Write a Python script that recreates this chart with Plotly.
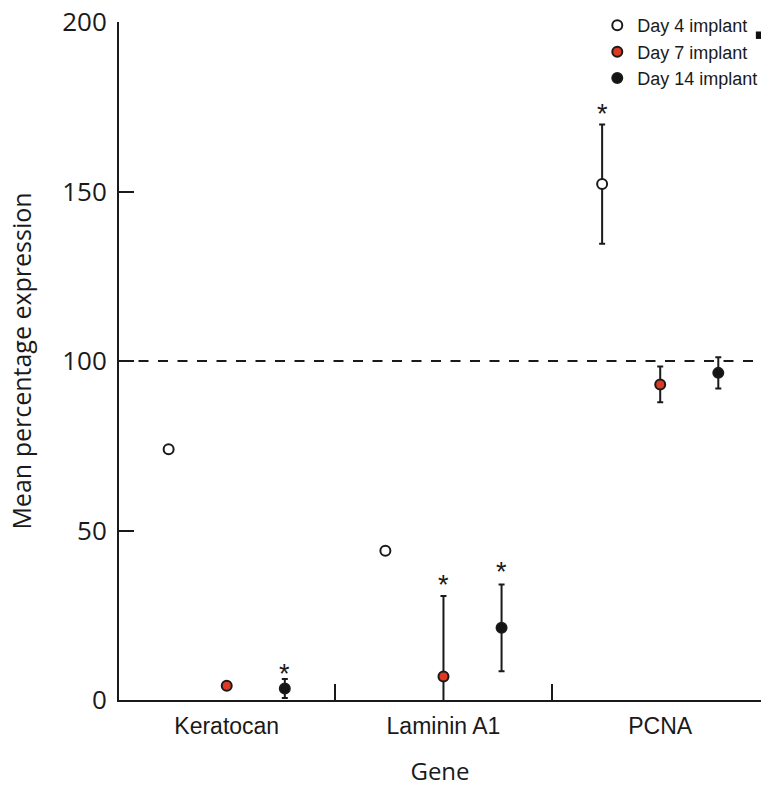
import plotly.graph_objects as go

# ---- data ----
genes = ["Keratocan", "Laminin A1", "PCNA"]
series_names = ["Day 4 implant", "Day 7 implant", "Day 14 implant"]
day4_mean = [74.0, 44.0, 152.2]
day4_err = [None, None, 17.6]
day7_mean = [4.2, 6.9, 93.1]
day7_err = [None, 23.8, 5.3]
day14_mean = [3.4, 21.3, 96.5]
day14_err = [2.8, 12.8, 4.6]
reference_level = 100
y_ticks = [0, 50, 100, 150, 200]
# significance markers: (gene index, series index, y position of asterisk)
sig_gene = [0, 1, 1, 2]
sig_series = [2, 1, 2, 0]
sig_y = [9.7, 36.0, 39.8, 175.0]

means = [day4_mean, day7_mean, day14_mean]
errs = [day4_err, day7_err, day14_err]

# ---- styling ----
offsets = [-0.268, 0.0, 0.268]
fills = ["white", "#dc3a22", "#141414"]
INK = "#1a1a1a"

fig = go.Figure()
for s in range(3):
    xs = [g + offsets[s] for g in range(len(genes))]
    fig.add_trace(go.Scatter(
        x=xs, y=means[s], mode="markers", name=series_names[s],
        marker=dict(size=10, color=fills[s], line=dict(color=INK, width=2)),
        error_y=dict(type="data", array=errs[s], visible=True,
                     color=INK, thickness=2, width=3),
    ))

for g, s, y in zip(sig_gene, sig_series, sig_y):
    fig.add_annotation(x=g + offsets[s], y=y, text="*", showarrow=False,
                       font=dict(family="Liberation Sans, Arial", size=27, color=INK),
                       yanchor="middle", yshift=-7)

fig.add_shape(type="line", xref="paper", yref="y", x0=0, x1=0.988,
              y0=reference_level, y1=reference_level,
              line=dict(color=INK, width=2, dash="10px,9.5px"))
# small black mark next to the legend in the original figure
fig.add_shape(type="rect", xref="paper", yref="paper",
              x0=0.992, x1=1.0, y0=0.975, y1=0.986,
              fillcolor="#111", line=dict(width=0))

fig.update_layout(
    width=764, height=787,
    margin=dict(l=119, r=1, t=22, b=87),
    paper_bgcolor="white", plot_bgcolor="white",
    showlegend=True,
    legend=dict(x=0.745, y=1.022, xanchor="left", yanchor="top",
                font=dict(family="Liberation Sans, Arial", size=18, color=INK),
                bgcolor="rgba(0,0,0,0)", tracegroupgap=0, itemwidth=30),
    xaxis=dict(range=[-0.497, 2.465], showgrid=False, zeroline=False,
               showline=True, linecolor=INK, linewidth=2,
               tickvals=[0, 1, 2], ticktext=genes, ticks="",
               tickfont=dict(family="Liberation Sans, Arial", size=23, color=INK),
               ticklabelstandoff=4,
               minor=dict(tickvals=[0.5, 1.5], ticks="inside", ticklen=16,
                          tickwidth=2, tickcolor=INK, showgrid=False),
               title=dict(text="Gene", standoff=33,
                          font=dict(family="Open Sans", size=24, color=INK)),
               automargin=False),
    yaxis=dict(range=[0, 200], showgrid=False, zeroline=False,
               showline=True, linecolor=INK, linewidth=2,
               tickvals=y_ticks, ticks="inside", ticklen=15, tickwidth=2,
               tickcolor=INK, ticklabelstandoff=5,
               tickfont=dict(family="Open Sans", size=26, color=INK),
               title=dict(text="Mean percentage expression", standoff=23,
                          font=dict(family="Open Sans", size=25, color=INK)),
               automargin=False),
)

fig.write_html("out.html", config={"displayModeBar": False},
               post_script="document.body.style.margin='0';")
